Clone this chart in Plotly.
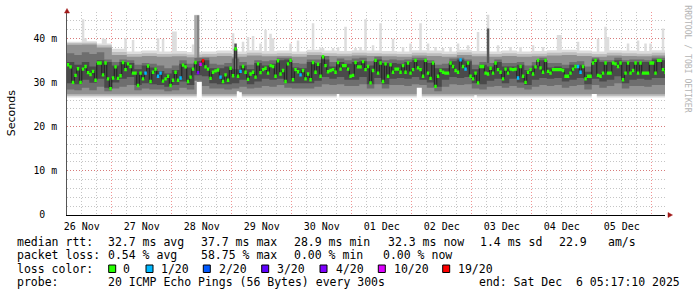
import pandas as pd
import plotly.graph_objects as go

# ---------------- data ----------------
DATA_START = pd.Timestamp("2025-11-26 06:00:00")   # first hourly column
VIEW_START = pd.Timestamp("2025-11-26 06:05:00")
END_TIME = pd.Timestamp("2025-12-06 05:17:10")

# hourly median rtt (ms)
median_ms = [
    34.0, 33.5, 30.0, 31.6, 33.1, 30.0, 33.0, 33.6, 32.2, 31.8,
    32.5, 30.5, 34.4, 34.4, 31.7, 34.4, 30.8, 28.6, 31.0, 33.5,
    30.9, 31.5, 34.5, 32.9, 34.2, 33.6, 32.1, 32.1, 29.3, 32.1,
    30.8, 32.1, 33.7, 30.2, 32.3, 33.0, 31.4, 32.1, 30.3, 30.8,
    31.4, 29.3, 30.5, 32.3, 30.5, 31.0, 33.9, 33.5, 30.2, 31.2,
    33.0, 34.5, 32.2, 34.1, 34.9, 33.5, 33.0, 30.9, 32.3, 32.6,
    32.8, 31.2, 30.2, 31.7, 30.5, 33.2, 31.5, 37.6, 31.4, 32.5,
    33.6, 32.3, 30.7, 31.9, 32.3, 31.2, 34.2, 32.2, 32.9, 33.2,
    32.1, 33.8, 33.6, 31.4, 34.9, 31.9, 32.7, 30.2, 34.2, 35.0,
    30.6, 32.9, 32.4, 31.7, 32.7, 30.8, 31.9, 30.6, 34.5, 32.3,
    34.1, 31.4, 35.8, 33.8, 32.4, 32.7, 32.9, 32.3, 34.5, 33.0,
    33.8, 33.8, 33.0, 31.4, 31.6, 34.5, 33.5, 33.5, 34.7, 32.9,
    33.6, 29.9, 32.7, 35.0, 32.1, 34.4, 30.2, 34.2, 31.4, 34.0,
    32.3, 33.0, 33.0, 32.3, 33.8, 32.3, 34.4, 32.1, 32.9, 35.0,
    33.3, 32.9, 31.4, 35.0, 32.1, 30.9, 34.4, 29.1, 31.4, 32.7,
    32.3, 32.1, 32.1, 34.4, 33.6, 32.7, 32.3, 35.1, 33.6, 33.0,
    34.4, 31.4, 30.8, 32.1, 29.9, 33.6, 33.6, 32.1, 31.9, 33.2,
    32.1, 34.4, 32.9, 32.3, 30.8, 33.0, 32.1, 33.0, 32.9, 33.0,
    31.0, 33.6, 31.4, 30.0, 32.3, 32.9, 31.9, 33.5, 35.0, 33.3,
    32.3, 35.0, 32.5, 32.1, 32.9, 32.9, 32.9, 32.9, 32.7, 31.4,
    31.4, 32.1, 33.0, 33.6, 33.6, 32.3, 33.6, 30.8, 31.4, 31.4,
    34.4, 35.0, 31.6, 31.4, 32.1, 34.4, 32.1, 32.1, 34.4, 34.2,
    33.6, 34.4, 30.6, 32.1, 34.4, 32.1, 32.7, 34.4, 32.1, 34.4,
    32.1, 32.1, 32.1, 34.4, 34.4, 32.1, 35.0, 35.0, 32.9, 32.3,
]

# hours with packet loss (count out of 20); all other hours: 0
loss_hour = [31, 36, 37, 45, 52, 53, 54, 61, 69, 93, 157, 159, 180, 204, 205]
loss_count = [1, 1, 1, 1, 4, 10, 19, 1, 1, 1, 1, 1, 1, 1, 1]

# 6-hour smoke envelope (ms)
ping_min = [26.6, 26.6, 26.6, 26.6, 26.6, 26.6, 26.6, 26.6, 26.6, 26.6,
            26.6, 26.6, 26.6, 26.6, 26.6, 26.6, 26.6, 26.6, 26.6, 26.6,
            26.6, 26.6, 26.6, 26.6, 26.6, 26.6, 26.6, 26.6, 26.6, 26.6,
            26.6, 26.6, 26.6, 26.6, 26.6, 26.6, 26.6, 26.6, 26.6, 26.6]
ping_max = [39.2, 39.3, 38.8, 37.6, 37.0, 37.2, 37.0, 37.1, 36.9, 37.0,
            37.2, 37.0, 37.3, 37.1, 37.2, 37.0, 37.4, 37.2, 37.1, 37.3,
            37.2, 37.1, 37.0, 37.3, 37.2, 37.0, 37.4, 37.1, 37.0, 37.2,
            37.0, 37.1, 37.3, 37.4, 37.2, 37.0, 37.3, 37.2, 37.1, 37.3]
p05 = [26.9, 26.9, 26.9, 26.9, 26.9, 26.9, 26.9, 26.9, 26.9, 26.9,
       26.9, 26.9, 26.9, 26.9, 26.9, 26.9, 26.9, 26.9, 26.9, 26.9,
       26.9, 26.9, 26.9, 26.9, 26.9, 26.9, 26.9, 26.9, 26.9, 26.9,
       26.9, 26.9, 26.9, 26.9, 26.9, 26.9, 26.9, 26.9, 26.9, 26.9]
p95 = [38.9, 39.0, 38.4, 36.9, 36.4, 36.6, 36.4, 36.5, 36.3, 36.4,
       36.6, 36.4, 36.7, 36.5, 36.6, 36.4, 36.8, 36.6, 36.5, 36.7,
       36.6, 36.5, 36.4, 36.7, 36.6, 36.4, 36.8, 36.5, 36.4, 36.6,
       36.4, 36.5, 36.7, 36.8, 36.6, 36.4, 36.7, 36.6, 36.5, 36.7]
p15 = [27.3, 27.3, 27.3, 27.3, 27.3, 27.3, 27.3, 27.3, 27.3, 27.3,
       27.3, 27.3, 27.3, 27.3, 27.3, 27.3, 27.3, 27.3, 27.3, 27.3,
       27.3, 27.3, 27.3, 27.3, 27.3, 27.3, 27.3, 27.3, 27.3, 27.3,
       27.3, 27.3, 27.3, 27.3, 27.3, 27.3, 27.3, 27.3, 27.3, 27.3]
p85 = [38.5, 38.6, 37.9, 36.2, 35.8, 36.0, 35.8, 35.9, 35.7, 35.8,
       36.0, 35.8, 36.1, 35.9, 36.0, 35.8, 36.2, 36.0, 35.9, 36.1,
       36.0, 35.9, 35.8, 36.1, 36.0, 35.8, 36.2, 35.9, 35.8, 36.0,
       35.8, 35.9, 36.1, 36.2, 36.0, 35.8, 36.1, 36.0, 35.9, 36.1]

# 3-hour inner smoke (ms)
p30 = [28.4, 28.2, 28.8, 28.2, 29.0, 28.0, 28.6, 29.0, 29.4, 28.2,
       28.6, 28.4, 28.4, 28.0, 28.2, 28.8, 28.4, 30.4, 29.2, 28.6,
       28.6, 28.4, 28.6, 29.0, 28.6, 28.8, 29.2, 29.0, 29.4, 28.8,
       28.6, 28.6, 28.6, 29.0, 29.6, 29.4, 29.6, 29.2, 29.2, 29.6,
       28.6, 29.6, 28.6, 29.4, 29.4, 29.2, 29.6, 29.4, 28.8, 28.0,
       29.0, 29.6, 29.4, 29.6, 28.6, 28.4, 29.0, 29.2, 28.8, 29.2,
       28.8, 28.4, 29.0, 29.4, 29.2, 29.4, 28.8, 29.2, 29.4, 28.4,
       29.4, 28.8, 29.2, 29.8, 28.6, 29.2, 29.2, 29.0, 29.4, 29.4]
p70 = [36.6, 36.2, 36.8, 36.4, 36.8, 35.2, 34.6, 35.2, 35.0, 34.0,
       34.4, 34.2, 33.8, 33.2, 33.8, 35.0, 34.2, 35.6, 35.6, 34.2,
       34.0, 34.4, 35.4, 34.6, 34.0, 35.0, 34.8, 35.0, 35.6, 35.6,
       34.4, 34.2, 35.2, 35.2, 36.0, 34.6, 35.4, 35.0, 35.4, 35.6,
       34.8, 35.8, 35.0, 35.2, 35.0, 35.2, 35.6, 35.6, 35.0, 34.0,
       34.2, 35.4, 35.6, 35.2, 34.0, 34.6, 34.4, 35.2, 34.4, 34.4,
       34.6, 33.8, 34.6, 35.6, 34.4, 34.4, 34.0, 34.6, 34.8, 33.6,
       35.6, 35.0, 35.0, 35.6, 35.0, 35.2, 35.2, 35.0, 35.6, 35.6]
p40 = [29.8, 29.6, 30.6, 29.9, 30.8, 28.8, 30.0, 30.8, 31.2, 29.4,
       29.8, 29.6, 29.4, 29.0, 29.4, 30.2, 29.4, 31.6, 31.4, 29.8,
       29.6, 29.6, 29.8, 30.6, 29.6, 30.2, 30.8, 30.6, 30.8, 29.8,
       29.8, 29.8, 29.8, 30.4, 31.2, 30.8, 31.2, 30.6, 30.6, 31.2,
       29.6, 31.0, 29.6, 30.8, 31.0, 30.8, 31.2, 30.6, 30.0, 29.0,
       30.6, 31.2, 31.0, 31.2, 29.8, 29.6, 30.4, 30.8, 29.8, 30.8,
       30.0, 29.4, 30.6, 31.0, 30.8, 31.0, 30.2, 30.6, 31.0, 29.6,
       30.8, 30.2, 30.6, 31.4, 29.8, 30.6, 30.8, 30.6, 31.0, 31.0]
p60 = [34.6, 34.0, 34.6, 33.6, 35.0, 34.6, 33.8, 34.6, 34.4, 33.0,
       33.8, 33.4, 32.6, 32.0, 32.8, 34.2, 33.4, 34.8, 35.0, 33.2,
       33.2, 33.6, 33.0, 33.8, 33.0, 34.4, 33.8, 34.2, 35.0, 35.2,
       33.4, 33.2, 34.6, 34.4, 35.2, 33.6, 34.6, 34.2, 34.6, 34.8,
       33.8, 35.2, 34.4, 34.4, 34.2, 34.6, 35.0, 35.0, 34.4, 33.2,
       33.2, 34.8, 35.2, 34.8, 33.0, 34.0, 33.6, 34.6, 33.6, 33.6,
       34.0, 32.8, 33.8, 35.0, 33.4, 33.6, 33.2, 34.0, 34.0, 32.4,
       35.2, 34.6, 34.6, 35.0, 34.6, 34.6, 34.6, 34.6, 35.2, 35.0]

# hourly outlier spikes of the slowest ping (ms)
spike_hour = [6, 7, 14, 15, 23, 26, 36, 38, 42, 43,
              50, 51, 52, 66, 70, 72, 74, 77, 79, 81, 82,
              89, 92, 98, 101, 102, 106, 108, 111, 115, 117,
              119, 122, 125, 130, 134, 137, 141, 144, 147, 150,
              153, 156, 160, 164, 168, 172, 177, 181, 186, 190,
              196, 197, 204, 212, 215, 216, 224, 228, 231, 233,
              238]
spike_top = [44.3, 40.0, 40.0, 39.8, 40.0, 39.6, 40.0, 39.8, 41.5, 41.5,
             38.6, 45.3, 45.3, 41.1, 39.2, 40.3, 40.5, 38.8, 41.9, 41.0, 40.0,
             38.8, 39.5, 43.4, 37.9, 37.8, 37.8, 38.0, 42.6, 37.8, 38.0,
             44.3, 38.4, 43.4, 39.9, 38.0, 38.8, 43.4, 38.8, 38.0, 37.8,
             38.0, 38.8, 38.4, 41.4, 45.3, 38.4, 38.0, 38.0, 38.4, 38.0,
             40.7, 40.7, 39.2, 39.9, 42.6, 40.3, 38.8, 39.5, 38.8, 38.8,
             42.2]

# hours where the bulk of the pings was high
tall_hour = [51, 52, 67, 168]
tall_top = [45.2, 45.2, 38.8, 42.2]

# hours where the fastest pings were missing (smoke starts higher)
gap_hour = [52, 53, 68, 69, 108, 140, 141, 163, 210, 211]
gap_bottom = [30.1, 30.1, 28.0, 27.8, 27.4, 28.8, 28.8, 27.1, 27.4, 27.4]

loss_names = ["0", "1/20", "2/20", "3/20", "4/20", "10/20", "19/20"]
loss_levels = [0, 1, 2, 3, 4, 10, 19]

stat_line1 = ["median rtt:", "32.7 ms avg", "37.7 ms max", "28.9 ms min",
              "32.3 ms now", "1.4 ms sd", "22.9", "am/s"]
stat_line2 = ["packet loss:", "0.54 % avg", "58.75 % max", "0.00 % min", "0.00 % now"]
probe_line = ["probe:", "20 ICMP Echo Pings (56 Bytes) every 300s",
              "end: Sat Dec  6 05:17:10 2025"]

y_tickvals = [0, 10, 20, 30, 40]
y_ticktext = ["0  ", "10 m", "20 m", "30 m", "40 m"]

# ---------------- styling ----------------
W, H = 697, 297
L, R, T, B = 67, 32, 12, 82
PW, PH = W - L - R, H - T - B
Y_MAX = 45.93
MONO = "DejaVu Sans Mono"
TXT = 11.5
LOSS_COLORS = {0: "#26ff00", 1: "#00b8ff", 2: "#0059ff", 3: "#5e00ff",
               4: "#7e00ff", 10: "#dd00ff", 19: "#ff0000"}
TALL_COLORS = ["#a8a8a8", "#858585", "#505050", "#565656"]
line1_x = [16, 107, 200, 293, 386.7, 479, 558, 606.7]
line2_x = [16, 107.3, 200, 293, 381.7]
line4_x = [16, 107, 478.3]


def px_x(x):
    return (x - L) / PW


def px_y(y):
    return (H - B - y) / PH


def nb(s):
    return s.replace(" ", "\u00a0")


def edges(n, step_h):
    return [DATA_START + pd.Timedelta(hours=step_h * k) for k in range(n + 1)]


fig = go.Figure()


def band(step_h, lo, hi, color):
    x = edges(len(lo), step_h)
    fig.add_trace(go.Scatter(x=x, y=list(lo) + [lo[-1]], mode="lines",
                             line=dict(width=0, shape="hv"), hoverinfo="skip",
                             showlegend=False))
    fig.add_trace(go.Scatter(x=x, y=list(hi) + [hi[-1]], mode="lines",
                             line=dict(width=0, shape="hv"), fill="tonexty",
                             fillcolor=color, hoverinfo="skip", showlegend=False))


def hour_rects(idx, base, top, color):
    xs, ys = [], []
    for i, b, t in zip(idx, base, top):
        x0 = DATA_START + pd.Timedelta(hours=i)
        x1 = x0 + pd.Timedelta(hours=1)
        xs += [x0, x1, x1, x0, x0, None]
        ys += [b, b, t, t, b, None]
    fig.add_trace(go.Scatter(x=xs, y=ys, mode="lines", line=dict(width=0),
                             fill="toself", fillcolor=color, hoverinfo="skip",
                             showlegend=False))


# light outlier spikes (behind everything)
hour_rects(spike_hour, [36.0] * len(spike_hour), spike_top, "#dddddd")
# smoke layers, light to dark
band(6, ping_min, ping_max, "#dddddd")
band(6, p05, p95, "#bdbdbd")
band(6, p15, p85, "#919191")
for h, t, c in zip(tall_hour, tall_top, TALL_COLORS):
    hour_rects([h], [30.0], [t], c)
band(3, p30, p70, "#6e6e6e")
band(3, p40, p60, "#4a4a4a")
# missing fast pings -> white
hour_rects(gap_hour, [26.0] * len(gap_hour), gap_bottom, "#ffffff")

# median: dark step connectors + coloured segments
fig.add_trace(go.Scatter(x=edges(len(median_ms), 1), y=median_ms + [median_ms[-1]],
                         mode="lines", line=dict(color="#1e1e1e", width=1, shape="hv"),
                         hoverinfo="skip", showlegend=False))
loss_by_hour = dict(zip(loss_hour, loss_count))
half = 0.38
for lvl in loss_levels:
    idx = [i for i in range(len(median_ms)) if loss_by_hour.get(i, 0) == lvl]
    if idx:
        hour_rects(idx, [median_ms[i] - half for i in idx],
                   [median_ms[i] + half for i in idx], LOSS_COLORS[lvl])

fig.update_layout(
    width=W, height=H, margin=dict(l=L, r=R, t=T, b=B),
    paper_bgcolor="white", plot_bgcolor="white", showlegend=False,
    font=dict(family=MONO, size=10, color="#000"),
)

fig.update_xaxes(
    type="date", range=[VIEW_START, END_TIME],
    tick0="2025-11-26", dtick=86400000, ticklabelmode="period",
    tickformat="%d %b", tickfont=dict(family=MONO, size=10, color="#000"),
    showgrid=True, gridcolor="rgba(230,60,60,0.55)", griddash="1px,2px", gridwidth=1,
    minor=dict(dtick=6 * 3600000, tick0="2025-11-26", showgrid=True,
               gridcolor="rgba(150,150,150,0.55)", griddash="1px,2px", gridwidth=1),
    showline=True, linecolor="#000", linewidth=1, zeroline=False, ticks="",
    ticklabelstandoff=2, layer="below traces",
)
fig.update_yaxes(
    range=[0, Y_MAX], tickvals=y_tickvals, ticktext=[nb(t) for t in y_ticktext],
    tickfont=dict(family=MONO, size=9.8, color="#000"),
    showgrid=True, gridcolor="rgba(230,60,60,0.55)", griddash="1px,2px", gridwidth=1,
    minor=dict(dtick=2, showgrid=True, gridcolor="rgba(150,150,150,0.55)",
               griddash="1px,2px", gridwidth=1),
    showline=True, linecolor="#555", linewidth=1, zeroline=False, ticks="",
    ticklabelstandoff=7, layer="below traces",
)

ann = []


def text(xp, yp, s, size=TXT, xanchor="left", color="#000", family=MONO, angle=0):
    ann.append(dict(x=px_x(xp), y=px_y(yp), xref="paper", yref="paper", text=nb(s),
                    showarrow=False, xanchor=xanchor, yanchor="middle", textangle=angle,
                    borderpad=0, font=dict(family=family, size=size, color=color)))


for s, x in zip(stat_line1, line1_x):
    text(x, 241.5, s)
for s, x in zip(stat_line2, line2_x):
    text(x, 255, s)
text(16, 268.5, "loss color:")
for s, x in zip(probe_line, line4_x):
    text(x, 282, s)
text(11.7, 113.5, "Seconds", size=11, xanchor="center", family="DejaVu Sans", angle=-90)
text(687.7, 59, "RRDTOOL / TOBI OETIKER", size=8.1, xanchor="center", color="#b4b4b4", angle=90)

shapes = []
sq_left = [108.7, 146.0, 203.3, 261.7, 320.0, 378.3, 442.7]
lab_left = [122.0, 160.0, 217.5, 276.0, 334.5, 392.5, 456.5]
for lvl, name, sx, tx in zip(loss_levels, loss_names, sq_left, lab_left):
    shapes.append(dict(type="rect", xref="paper", yref="paper",
                       x0=px_x(sx), x1=px_x(sx + 7), y0=px_y(272.5), y1=px_y(265),
                       fillcolor=LOSS_COLORS[lvl], line=dict(color="#000", width=1)))
    text(tx, 268.5, name)

# axis arrows
ARROW = "#a01818"
shapes.append(dict(type="path", xref="paper", yref="paper", fillcolor=ARROW,
                   line=dict(color=ARROW, width=0.5),
                   path=f"M {px_x(64.5)},{px_y(13)} L {px_x(69.5)},{px_y(13)} L {px_x(67)},{px_y(8.5)} Z"))
shapes.append(dict(type="path", xref="paper", yref="paper", fillcolor=ARROW,
                   line=dict(color=ARROW, width=0.5),
                   path=f"M {px_x(668)},{px_y(212.5)} L {px_x(668)},{px_y(217.5)} L {px_x(672.5)},{px_y(215)} Z"))

fig.update_layout(annotations=ann, shapes=shapes)
fig.write_html("out.html")
